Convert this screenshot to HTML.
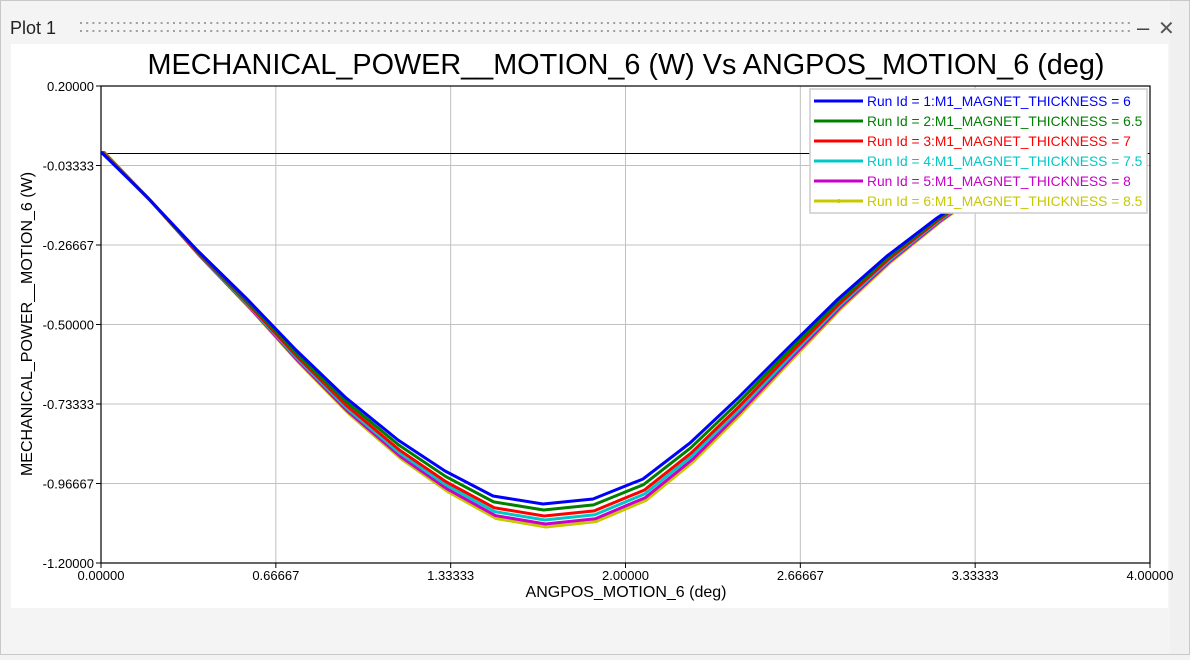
<!DOCTYPE html>
<html><head><meta charset="utf-8"><style>
html,body{margin:0;padding:0;background:#f3f3f3;}
body{width:1190px;height:655px;overflow:hidden;position:relative;font-family:"Liberation Sans",sans-serif;}
</style></head><body>
<svg width="1190" height="655" xmlns="http://www.w3.org/2000/svg" font-family="Liberation Sans, sans-serif">
<rect x="0.5" y="0.5" width="1189" height="654" fill="#f4f4f4" stroke="#c8c8c8"/>
<rect x="1170" y="1" width="19" height="653" fill="#f0f0f0"/>
<text x="10" y="34" font-size="18" fill="#222">Plot 1</text>
<g fill="#a0a0a0" id="dots"></g>
<text x="1137" y="35" font-size="22" fill="#444">–</text>
<text x="1158" y="35" font-size="20" fill="#555">✕</text>
<rect x="11" y="44" width="1157" height="564" fill="#fff"/>
<text x="626" y="74" font-size="28.8" text-anchor="middle" fill="#000">MECHANICAL_POWER__MOTION_6 (W) Vs ANGPOS_MOTION_6 (deg)</text>
<g id="grid" stroke="#c0c0c0" stroke-width="1"></g>
<line x1="101" y1="153.5" x2="1150" y2="153.5" stroke="#000" stroke-width="1"/>
<rect x="101" y="86" width="1049" height="477" fill="none" stroke="#000" stroke-width="1.2"/>
<g id="ticks" font-size="13" fill="#000"></g>
<text x="626" y="597" font-size="16" text-anchor="middle">ANGPOS_MOTION_6 (deg)</text>
<text transform="translate(32,324) rotate(-90)" font-size="16" text-anchor="middle">MECHANICAL_POWER__MOTION_6 (W)</text>
<g id="series" fill="none" stroke-width="3" stroke-linejoin="round"></g>
<rect x="810" y="89" width="337" height="124" fill="#fff" stroke="#ccc" stroke-width="1.5"/>
<g id="legend" font-size="13.8"></g>
</svg>
<script>
var NS="http://www.w3.org/2000/svg";
function el(p,t,a,txt){var e=document.createElementNS(NS,t);for(var k in a)e.setAttribute(k,a[k]);if(txt!==undefined)e.textContent=txt;document.getElementById(p).appendChild(e);return e;}
for(var x=80;x<1130;x+=6.2){el('dots','rect',{x:x,y:22,width:2,height:2});el('dots','rect',{x:x,y:30,width:2,height:2});}
var xl=['0.00000','0.66667','1.33333','2.00000','2.66667','3.33333','4.00000'];
for(var i=0;i<7;i++){var px=101+i*1049/6;el('grid','line',{x1:px,y1:86,x2:px,y2:563});
el('ticks','line',{x1:px,y1:563,x2:px,y2:568,stroke:'#000'});
el('ticks','text',{x:px,y:580,'text-anchor':'middle'},xl[i]);}
var yl=['0.20000','-0.03333','-0.26667','-0.50000','-0.73333','-0.96667','-1.20000'];
for(var i=0;i<7;i++){var py=86+i*477/6;el('grid','line',{x1:101,y1:py,x2:1150,y2:py});
el('ticks','line',{x1:96,y1:py,x2:101,y2:py,stroke:'#000'});
el('ticks','text',{x:94,y:py+5,'text-anchor':'end'},yl[i]);}
var X=[101,148,197,248,296,345,398,445,493,543,593,643,690,738,789,838,887,937,986,1035,1085,1120];
var Y=[152,198,250,300,350,397,440,471,496,504,499,479,443,398,347,299,256,218,185,160,140,130];
var cols=['#0000ff','#008000','#ff0000','#00c8c8','#c800c8','#c8c800'];
var off=[0,6,12,16,20,23];
var names=['6','6.5','7','7.5','8','8.5'];
for(var s=5;s>=0;s--){var f=off[s]/350;var pts=[];
for(var i=0;i<X.length;i++){var d=Y[i]-154;pts.push((X[i]+(s*0.6))+','+(154+d*(1+f)));}
el('series','polyline',{points:pts.join(' '),stroke:cols[s]});}
for(var s=0;s<6;s++){var y=101+s*20;
el('legend','line',{x1:814,y1:y,x2:863,y2:y,stroke:cols[s],'stroke-width':3});
el('legend','text',{x:867,y:y+5,fill:cols[s]},'Run Id = '+(s+1)+':M1_MAGNET_THICKNESS = '+names[s]);}
el('legend','circle',{cx:839,cy:201,r:2,fill:cols[5]});
</script>
</body></html>
